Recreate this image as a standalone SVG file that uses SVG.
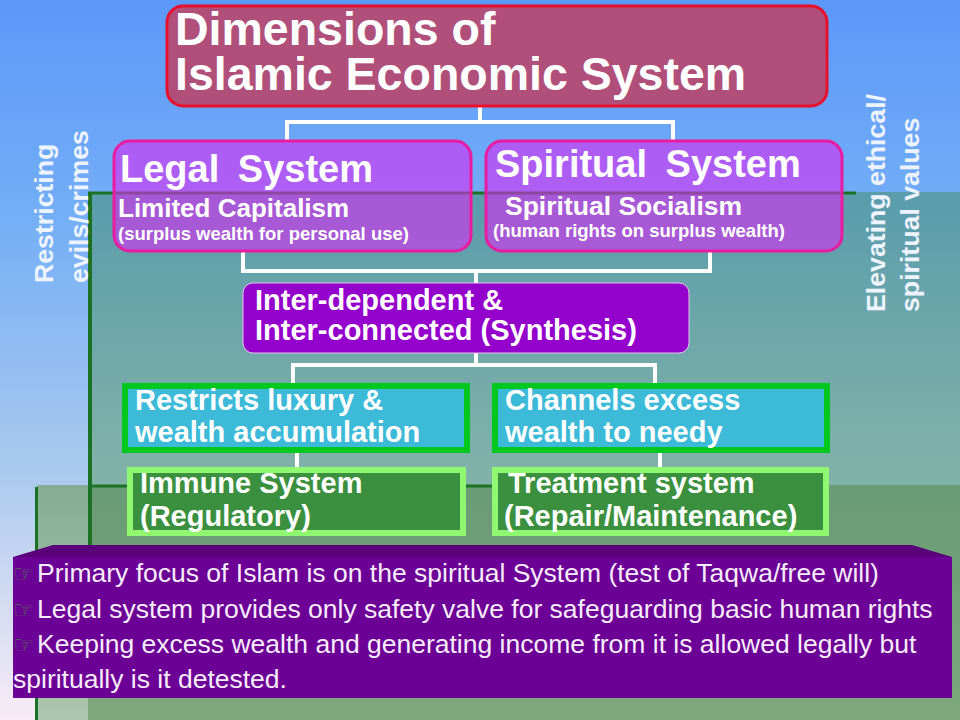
<svg xmlns="http://www.w3.org/2000/svg" width="960" height="720" viewBox="0 0 960 720">
<defs>
<linearGradient id="sky" x1="0" y1="0" x2="0" y2="1">
<stop offset="0" stop-color="#5C98FA"/>
<stop offset="0.3" stop-color="#74AEF6"/>
<stop offset="0.65" stop-color="#A9C9EE"/>
<stop offset="1" stop-color="#F8ECF6"/>
</linearGradient>
<linearGradient id="teal" x1="0" y1="0" x2="0" y2="1">
<stop offset="0" stop-color="#5A9CAC"/>
<stop offset="1" stop-color="#82B3A8"/>
</linearGradient>
<linearGradient id="lowR" x1="0" y1="0" x2="0" y2="1">
<stop offset="0" stop-color="#699B74"/>
<stop offset="1" stop-color="#7EA87C"/>
</linearGradient>
<linearGradient id="lowL" x1="0" y1="0" x2="0" y2="1">
<stop offset="0" stop-color="#86AE95"/>
<stop offset="1" stop-color="#ABC7AD"/>
</linearGradient>
<style>
.t{font-family:"Liberation Sans",Arial,sans-serif;font-weight:bold;fill:#FFFFFF}
.side{font-family:"Liberation Sans",Arial,sans-serif;font-weight:bold;font-size:26.7px;fill:#EEF4FF}
.sys{fill:#D82CF2;fill-opacity:0.6;stroke:#E81CA0;stroke-width:3}
.blue{fill:#3CBAD8;stroke:#00C81E;stroke-width:6}
.dg{fill:#3A903E;stroke:#90F870;stroke-width:6}
.conn{fill:none;stroke:#FFFFFF;stroke-width:4}
.bt{font-family:"Liberation Sans",Arial,sans-serif;font-size:26.5px;fill:#F6ECFA}
.ic{font-family:"DejaVu Sans",sans-serif;font-size:24px;fill:#4F6B50}
.edge{stroke:#1C7224;fill:none}
</style>
</defs>

<g id="background">
<rect x="0" y="0" width="960" height="720" fill="url(#sky)"/>
<rect x="88" y="192" width="872" height="293" fill="url(#teal)"/>
<polygon points="35,488 38,485 88,485 88,720 35,720" fill="url(#lowL)"/>
<rect x="88" y="485" width="872" height="235" fill="url(#lowR)"/>
<line class="edge" x1="88" y1="193" x2="856" y2="193" stroke-width="3"/>
<line class="edge" x1="90" y1="192" x2="90" y2="557" stroke-width="4"/>
<line class="edge" x1="90" y1="486" x2="560" y2="486" stroke-width="3"/>
<line class="edge" x1="36.5" y1="487" x2="36.5" y2="720" stroke-width="3"/>
</g>

<g id="side-labels">
<text class="side" transform="translate(53,283) rotate(-90)">Restricting</text>
<text class="side" transform="translate(88,283) rotate(-90)">evils/crimes</text>
<text class="side" transform="translate(885,312) rotate(-90)">Elevating ethical/</text>
<text class="side" transform="translate(919,312) rotate(-90)">spiritual values</text>
</g>

<g id="connectors">
<path class="conn" d="M480,107 V122 M287,141 V122 H673 V141"/>
<path class="conn" d="M243,252 V271 H710 V252 M476,271 V283"/>
<path class="conn" d="M476,353 V365 M293,383 V365 H655 V383"/>
<path class="conn" stroke-width="3" d="M297,453 V467 M660,453 V467"/>
</g>

<g id="title">
<rect x="167" y="6" width="660" height="100" rx="16" fill="#B0507A" stroke="#E8102A" stroke-width="3"/>
<text class="t" font-size="46.5" x="175" y="45">Dimensions of</text>
<text class="t" font-size="46.5" x="175" y="90">Islamic Economic System</text>
</g>

<g id="legal">
<rect class="sys" x="114" y="141" width="357" height="110" rx="16"/>
<text class="t" font-size="38" word-spacing="8" x="120" y="182">Legal System</text>
<text class="t" font-size="26" x="118" y="217">Limited Capitalism</text>
<text class="t" font-size="18.5" x="118" y="240">(surplus wealth for personal use)</text>
</g>

<g id="spiritual">
<rect class="sys" x="486" y="141" width="356" height="110" rx="16"/>
<text class="t" font-size="38" word-spacing="8" x="495" y="177">Spiritual System</text>
<text class="t" font-size="26.5" x="505" y="215">Spiritual Socialism</text>
<text class="t" font-size="18.5" x="493" y="237">(human rights on surplus wealth)</text>
</g>

<g id="synthesis">
<rect x="243" y="283" width="446" height="70" rx="10" fill="#9400CC" stroke="#E8C0F0" stroke-width="1"/>
<text class="t" font-size="29" x="255" y="310">Inter-dependent &amp;</text>
<text class="t" font-size="29" x="255" y="340">Inter-connected (Synthesis)</text>
</g>

<g id="restricts">
<rect class="blue" x="125" y="386" width="342" height="64"/>
<text class="t" font-size="29" x="135" y="410">Restricts luxury &amp;</text>
<text class="t" font-size="29" x="135" y="442">wealth accumulation</text>
</g>

<g id="channels">
<rect class="blue" x="495" y="386" width="332" height="64"/>
<text class="t" font-size="29" x="505" y="410">Channels excess</text>
<text class="t" font-size="29" x="505" y="442">wealth to needy</text>
</g>

<g id="immune">
<rect class="dg" x="130" y="470" width="333" height="63"/>
<text class="t" font-size="29" x="140" y="493">Immune System</text>
<text class="t" font-size="29" x="140" y="526">(Regulatory)</text>
</g>

<g id="treatment">
<rect class="dg" x="495" y="470" width="331" height="63"/>
<text class="t" font-size="29" x="508" y="493">Treatment system</text>
<text class="t" font-size="29" x="504" y="526">(Repair/Maintenance)</text>
</g>

<g id="notes">
<polygon points="53,545 912,545 952,557 13,557" fill="#5A007A"/>
<rect x="13" y="557" width="939" height="141" fill="#6C0096"/>
<text class="ic" x="13" y="582">☞</text>
<text class="ic" x="13" y="618">☞</text>
<text class="ic" x="13" y="653">☞</text>
<text class="bt" x="37" y="582">Primary focus of Islam is on the spiritual System (test of Taqwa/free will)</text>
<text class="bt" x="37" y="618">Legal system provides only safety valve for safeguarding basic human rights</text>
<text class="bt" x="37" y="653">Keeping excess wealth and generating income from it is allowed legally but</text>
<text class="bt" x="13" y="688">spiritually is it detested.</text>
</g>
</svg>
